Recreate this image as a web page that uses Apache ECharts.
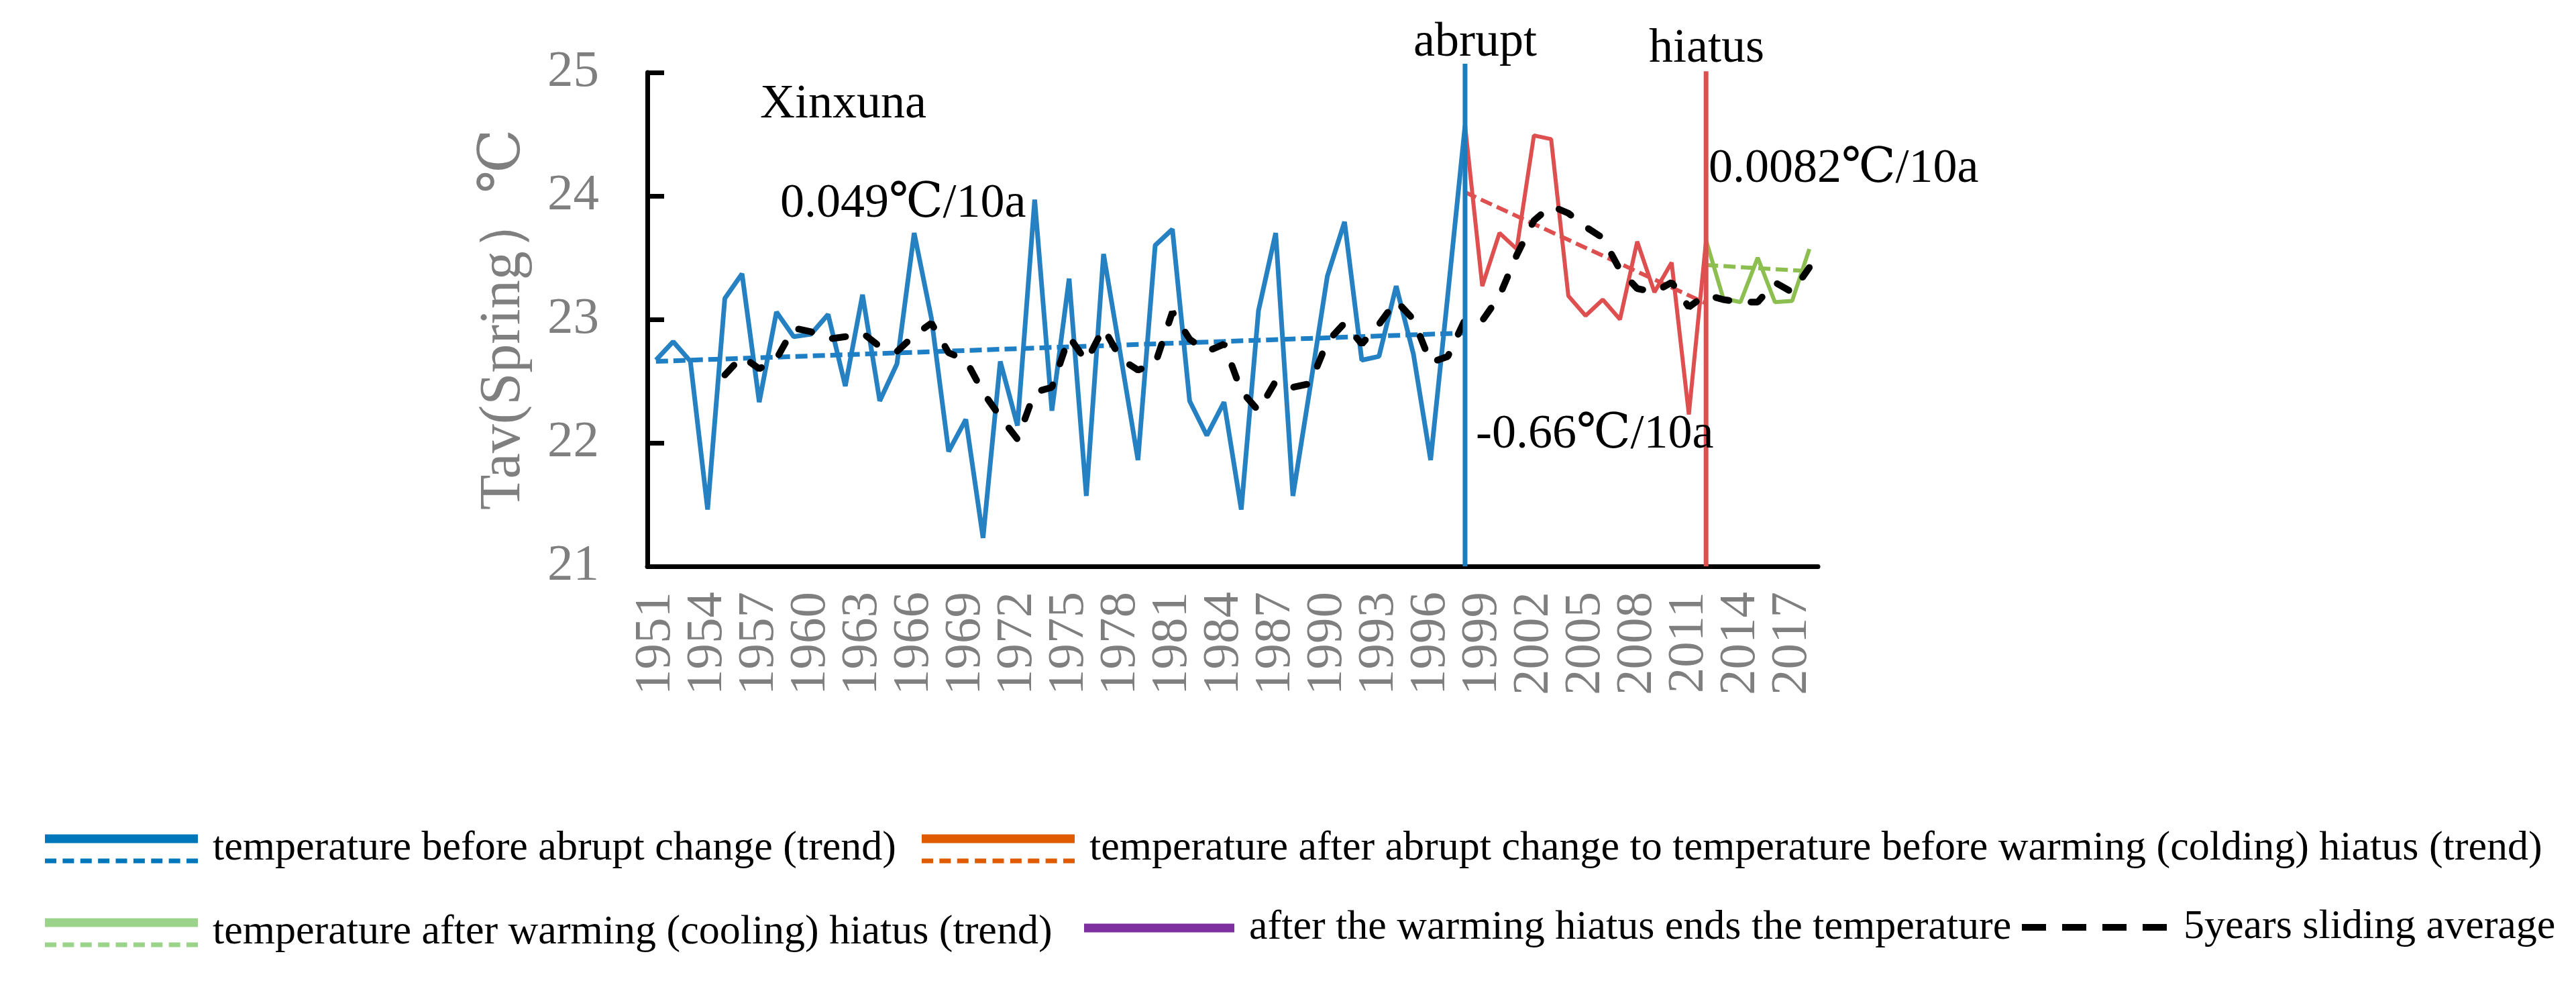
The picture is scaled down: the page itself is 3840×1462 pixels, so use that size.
<!DOCTYPE html>
<html><head><meta charset="utf-8">
<script src="https://cdn.jsdelivr.net/npm/echarts@6/dist/echarts.min.js"></script>
<style>html,body{margin:0;padding:0;background:#fff}#c{width:3840px;height:1462px}</style>
</head><body><div id="c"></div>
<script>
// ---------- data ----------
const years = ['1951','1952','1953','1954','1955','1956','1957','1958','1959','1960',
  '1961','1962','1963','1964','1965','1966','1967','1968','1969','1970',
  '1971','1972','1973','1974','1975','1976','1977','1978','1979','1980',
  '1981','1982','1983','1984','1985','1986','1987','1988','1989','1990',
  '1991','1992','1993','1994','1995','1996','1997','1998','1999','2000',
  '2001','2002','2003','2004','2005','2006','2007','2008','2009','2010',
  '2011','2012','2013','2014','2015','2016','2017','2018'];

// temperature before abrupt change, 1951-1998
const blueStart = '1951';
const blueTemp = [22.67, 22.82, 22.66, 21.46, 23.17, 23.37, 22.33, 23.06, 22.86, 22.88,
  23.04, 22.46, 23.20, 22.34, 22.64, 23.70, 23.01, 21.93, 22.19, 21.23,
  22.66, 22.14, 23.97, 22.26, 23.33, 21.57, 23.53, 22.70, 21.86, 23.60,
  23.73, 22.34, 22.06, 22.33, 21.46, 23.07, 23.70, 21.57, 22.45, 23.35,
  23.79, 22.67, 22.70, 23.27, 22.72, 21.86, 23.20, 24.57];
// temperature after abrupt change to hiatus, 1998-2012
const redStart = '1998';
const redTemp = [24.57, 23.27, 23.70, 23.57, 24.49, 24.46, 23.19, 23.03, 23.16, 23.00,
  23.63, 23.22, 23.46, 22.23, 23.64];
// temperature after hiatus, 2012-2018
const greenStart = '2012';
const greenTemp = [23.64, 23.17, 23.14, 23.50, 23.14, 23.15, 23.57];

// linear trend end points
const blueTrendYears = ['1951', '1998'];
const blueTrend = [22.66, 22.89];
const redTrendYears = ['1998', '2012'];
const redTrend = [24.03, 23.13];
const greenTrendYears = ['2012', '2018'];
const greenTrend = [23.44, 23.39];

// 5 years sliding average (as drawn)
const maAvg = [null, null, null, null, 22.55, 22.70, 22.60, 22.68, 22.93, 22.90,
  22.84, 22.86, 22.89, 22.78, 22.74, 22.87, 22.97, 22.73, 22.67, 22.41,
  22.21, 22.03, 22.41, 22.45, 22.86, 22.66, 22.93, 22.68, 22.59, 22.64,
  23.06, 22.84, 22.74, 22.80, 22.42, 22.26, 22.50, 22.45, 22.48, 22.82,
  22.97, 22.80, 22.96, 23.15, 23.00, 22.65, 22.70, 23.00, 22.99, 23.19,
  23.52, 23.80, 23.92, 23.86, 23.75, 23.66, 23.40, 23.25, 23.22, 23.30,
  23.10, 23.20, 23.16, 23.14, 23.14, 23.30, 23.22, 23.42];

// marker lines: year and value span
const abruptYear = '1998';
const abruptSpan = [21, 25.07];
const hiatusYear = '2012';
const hiatusSpan = [21, 25.01];

const yTicks = [21, 22, 23, 24, 25];

const L1 = 'temperature before abrupt change (trend)';
const L2 = 'temperature after abrupt change to temperature before warming (colding) hiatus (trend)';
const L3 = 'temperature after warming (cooling) hiatus (trend)';
const L4 = 'after the warming hiatus ends the temperature';
const L5 = '5years sliding average';

// ---------- build ----------
const FONT = "'Liberation Serif','DejaVu Serif','Times New Roman',serif";
function seg(start, vals) {
  const s = years.indexOf(start);
  return vals.map((v, i) => [years[s + i], v]);
}
function pairs(ys, vals) { return ys.map((y, i) => [y, vals[i]]); }

function pairIcon(w, barH, dotTop, dotH, n, dotW) {
  let p = 'path://M0,0H' + w + 'V' + barH + 'H0Z';
  const step = (w - dotW) / (n - 1);
  for (let k = 0; k < n; k++) {
    const x = +(k * step).toFixed(2);
    p += 'M' + x + ',' + dotTop + 'H' + (x + dotW).toFixed(2) + 'V' + (dotTop + dotH) + 'H' + x + 'Z';
  }
  return p;
}
const iconPair = pairIcon(228, 13, 36, 7, 9, 17);
const iconBar = 'path://M0,0H224V13H0Z';
const iconDash = 'path://M0,0H36V10H0ZM60,0H96V10H60ZM120,0H156V10H120ZM180,0H216V10H180Z';

const legBase = {
  orient: 'horizontal', padding: 0, itemGap: 0, selectedMode: false, symbolKeepAspect: false,
  textStyle: { fontFamily: FONT, fontSize: 62, color: '#000', padding: [0, 0, 0, 17] }
};

const chart = echarts.init(document.getElementById('c'), null, { renderer: 'canvas' });
const txt = (text, x, y, align) => ({
  type: 'text', x: x, y: y, z: 100,
  style: { text: text, fontFamily: FONT, fontSize: 72, fill: '#000', align: align || 'left', verticalAlign: 'middle' }
});

chart.setOption({
  animation: false,
  backgroundColor: '#fff',
  grid: { left: 965, right: 1130, top: 108, bottom: 618 },
  xAxis: {
    type: 'category', data: years, boundaryGap: true,
    axisLine: { lineStyle: { color: '#000', width: 7 } },
    axisTick: { interval: 2, inside: true, length: 25, lineStyle: { color: '#000', width: 7 } },
    axisLabel: { interval: 2, rotate: 90, margin: 38, fontFamily: FONT, fontSize: 77, color: '#7f7f7f' },
    splitLine: { show: false }
  },
  yAxis: {
    type: 'value', min: yTicks[0], max: yTicks[yTicks.length - 1], interval: 1,
    name: 'Tav(Spring）℃', nameLocation: 'middle', nameGap: 171,
    nameTextStyle: { fontFamily: FONT, fontSize: 86, color: '#7f7f7f' },
    axisLine: { show: true, lineStyle: { color: '#000', width: 7 } },
    axisTick: { show: true, inside: true, length: 25, lineStyle: { color: '#000', width: 7 } },
    axisLabel: { margin: 72, fontFamily: FONT, fontSize: 77, color: '#7f7f7f' },
    splitLine: { show: false }
  },
  legend: [
    Object.assign({}, legBase, { left: 67, top: 1234, itemWidth: 228, itemHeight: 43,
      data: [{ name: L1, icon: iconPair, itemStyle: { color: '#0077bb', borderWidth: 0 } }] }),
    Object.assign({}, legBase, { left: 1374, top: 1234, itemWidth: 228, itemHeight: 43,
      data: [{ name: L2, icon: iconPair, itemStyle: { color: '#e05a00', borderWidth: 0 } }] }),
    Object.assign({}, legBase, { left: 67, top: 1359, itemWidth: 228, itemHeight: 43,
      data: [{ name: L3, icon: iconPair, itemStyle: { color: '#9bd38b', borderWidth: 0 } }] }),
    Object.assign({}, legBase, { left: 1616, top: 1352, itemWidth: 224, itemHeight: 13,
      data: [{ name: L4, icon: iconBar, itemStyle: { color: '#7f30a0', borderWidth: 0 } }] }),
    Object.assign({}, legBase, { left: 3014, top: 1351, itemWidth: 216, itemHeight: 10,
      textStyle: Object.assign({}, legBase.textStyle, { padding: [0, 0, 0, 20] }),
      data: [{ name: L5, icon: iconDash, itemStyle: { color: '#000', borderWidth: 0 } }] })
  ],
  series: [
    { name: L1, type: 'line', data: seg(blueStart, blueTemp), symbol: 'none', z: 3,
      lineStyle: { color: '#2681c3', width: 7 }, itemStyle: { color: '#2681c3' } },
    { name: L1, type: 'line', data: pairs(blueTrendYears, blueTrend), symbol: 'none', z: 4,
      lineStyle: { color: '#1f7fc4', width: 7, type: [18, 8] }, itemStyle: { color: '#1f7fc4' } },
    { name: L2, type: 'line', data: seg(redStart, redTemp), symbol: 'none', z: 3,
      lineStyle: { color: '#de5050', width: 6 }, itemStyle: { color: '#de5050' } },
    { name: L2, type: 'line', data: pairs(redTrendYears, redTrend), symbol: 'none', z: 4,
      lineStyle: { color: '#de5050', width: 6, type: [18, 8] }, itemStyle: { color: '#de5050' } },
    { name: L3, type: 'line', data: seg(greenStart, greenTemp), symbol: 'none', z: 3,
      lineStyle: { color: '#8cbf50', width: 6 }, itemStyle: { color: '#8cbf50' } },
    { name: L3, type: 'line', data: pairs(greenTrendYears, greenTrend), symbol: 'none', z: 4,
      lineStyle: { color: '#8cbf50', width: 6, type: [18, 8] }, itemStyle: { color: '#8cbf50' } },
    { name: L4, type: 'line', data: [], symbol: 'none',
      lineStyle: { color: '#7f30a0', width: 7 }, itemStyle: { color: '#7f30a0' } },
    { name: L5, type: 'line', data: maAvg, symbol: 'none', z: 5, connectNulls: false,
      lineStyle: { color: '#000', width: 10, type: [20, 33], cap: 'round' }, itemStyle: { color: '#000' } },
    { name: 'abrupt', type: 'line', data: [[abruptYear, abruptSpan[0]], [abruptYear, abruptSpan[1]]],
      symbol: 'none', clip: false, z: 6, lineStyle: { color: '#1a7dc0', width: 7 } },
    { name: 'hiatus', type: 'line', data: [[hiatusYear, hiatusSpan[0]], [hiatusYear, hiatusSpan[1]]],
      symbol: 'none', clip: false, z: 6, lineStyle: { color: '#de5050', width: 7 } }
  ],
  graphic: [
    txt('Xinxuna', 1133, 156),
    txt('0.049℃/10a', 1163, 304),
    txt('abrupt', 2199, 64, 'center'),
    txt('hiatus', 2544, 73, 'center'),
    txt('0.0082℃/10a', 2547, 252),
    txt('-0.66℃/10a', 2200, 648)
  ]
});
</script></body></html>
